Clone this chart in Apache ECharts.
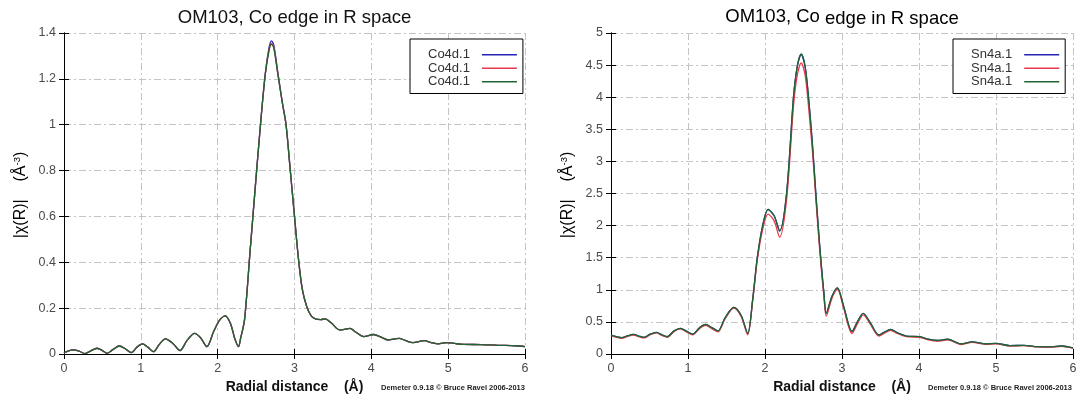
<!DOCTYPE html>
<html><head><meta charset="utf-8">
<script src="https://cdn.jsdelivr.net/npm/echarts@6/dist/echarts.min.js"></script>
<style>html,body{margin:0;padding:0;background:#fff}#c{width:1082px;height:401px}</style>
</head><body><div id="c"></div>
<script>
// ---------- data ----------
const coTitle = 'OM103, Co edge in R space';
const snTitleA = 'OM103, Co ';
const snTitleB = 'edge in R space';
const xAxisName = 'Radial distance    (Å)';
const credit = 'Demeter 0.9.18 \u00a9 Bruce Ravel 2006-2013';
const coNames = ['Co4d.1#1', 'Co4d.1#2', 'Co4d.1#3'];
const snNames = ['Sn4a.1#1', 'Sn4a.1#2', 'Sn4a.1#3'];

const coR = [0, 0.06, 0.12, 0.2, 0.27, 0.35, 0.43, 0.5, 0.56, 0.64, 0.72, 0.8, 0.875, 0.95, 1.02, 1.09, 1.165, 1.24, 1.32, 1.42, 1.51, 1.6, 1.7, 1.78, 1.86, 1.95, 2.03, 2.1, 2.17, 2.22, 2.27, 2.3, 2.35, 2.42, 2.49, 2.56, 2.62, 2.67, 2.7, 2.73, 2.78, 2.84, 2.89, 2.94, 3.0, 3.05, 3.1, 3.16, 3.22, 3.28, 3.34, 3.4, 3.48, 3.59, 3.66, 3.72, 3.8, 3.9, 4.03, 4.12, 4.22, 4.36, 4.45, 4.54, 4.69, 4.78, 4.87, 4.98, 5.1, 5.2, 5.43, 5.65, 5.88, 6.0];
const coBlue = [0.005, 0.014, 0.018, 0.012, 0.002, 0.014, 0.025, 0.015, 0.003, 0.02, 0.035, 0.022, 0.006, 0.03, 0.044, 0.03, 0.01, 0.042, 0.066, 0.045, 0.015, 0.058, 0.09, 0.07, 0.032, 0.1, 0.15, 0.166, 0.13, 0.07, 0.032, 0.07, 0.15, 0.44, 0.73, 1.012, 1.225, 1.338, 1.366, 1.348, 1.235, 1.1, 1.0, 0.82, 0.6, 0.42, 0.285, 0.206, 0.165, 0.152, 0.15, 0.153, 0.135, 0.105, 0.108, 0.112, 0.095, 0.076, 0.085, 0.075, 0.061, 0.068, 0.058, 0.05, 0.058, 0.05, 0.044, 0.05, 0.045, 0.042, 0.041, 0.038, 0.036, 0.032];
const coRed = [0.005, 0.014, 0.018, 0.012, 0.002, 0.014, 0.025, 0.015, 0.003, 0.02, 0.035, 0.022, 0.006, 0.03, 0.044, 0.03, 0.01, 0.042, 0.066, 0.045, 0.015, 0.058, 0.09, 0.07, 0.032, 0.1, 0.15, 0.166, 0.13, 0.07, 0.032, 0.07, 0.15, 0.44, 0.73, 1.01, 1.22, 1.33, 1.355, 1.34, 1.23, 1.1, 1.0, 0.82, 0.6, 0.42, 0.285, 0.206, 0.165, 0.152, 0.15, 0.153, 0.135, 0.105, 0.108, 0.112, 0.095, 0.076, 0.085, 0.075, 0.061, 0.068, 0.058, 0.05, 0.058, 0.05, 0.044, 0.05, 0.045, 0.042, 0.041, 0.038, 0.036, 0.032];
const coGreen = [0.005, 0.014, 0.018, 0.012, 0.002, 0.014, 0.025, 0.015, 0.003, 0.02, 0.035, 0.022, 0.006, 0.03, 0.044, 0.03, 0.01, 0.042, 0.066, 0.045, 0.015, 0.058, 0.09, 0.07, 0.032, 0.1, 0.15, 0.166, 0.13, 0.07, 0.032, 0.07, 0.15, 0.44, 0.73, 1.01, 1.22, 1.325, 1.35, 1.335, 1.228, 1.1, 1.0, 0.82, 0.6, 0.42, 0.285, 0.206, 0.165, 0.152, 0.15, 0.153, 0.135, 0.105, 0.108, 0.112, 0.095, 0.076, 0.085, 0.075, 0.061, 0.068, 0.058, 0.05, 0.058, 0.05, 0.044, 0.05, 0.045, 0.042, 0.041, 0.038, 0.036, 0.032];

const snR = [0, 0.07, 0.14, 0.22, 0.29, 0.36, 0.43, 0.51, 0.59, 0.66, 0.73, 0.82, 0.9, 0.98, 1.06, 1.15, 1.23, 1.31, 1.39, 1.48, 1.595, 1.69, 1.775, 1.84, 1.9, 1.97, 2.04, 2.12, 2.19, 2.28, 2.37, 2.42, 2.47, 2.52, 2.565, 2.62, 2.66, 2.7, 2.73, 2.765, 2.795, 2.87, 2.94, 3.02, 3.13, 3.2, 3.275, 3.37, 3.48, 3.55, 3.63, 3.72, 3.835, 4.01, 4.12, 4.24, 4.37, 4.55, 4.69, 4.87, 5.0, 5.18, 5.36, 5.54, 5.72, 5.85, 6.0];
const snBlue = [0.295, 0.27, 0.255, 0.285, 0.306, 0.28, 0.26, 0.31, 0.338, 0.3, 0.27, 0.36, 0.4, 0.355, 0.31, 0.41, 0.46, 0.41, 0.36, 0.56, 0.727, 0.6, 0.32, 0.85, 1.5, 2.0, 2.25, 2.15, 1.915, 2.5, 4.0, 4.48, 4.665, 4.48, 4.0, 3.2, 2.5, 1.85, 1.4, 0.95, 0.634, 0.9, 1.03, 0.75, 0.35, 0.5, 0.634, 0.48, 0.296, 0.34, 0.384, 0.33, 0.28, 0.27, 0.23, 0.21, 0.23, 0.156, 0.19, 0.156, 0.166, 0.13, 0.135, 0.114, 0.11, 0.125, 0.094];
const snRed = [0.285, 0.26, 0.245, 0.275, 0.296, 0.27, 0.25, 0.3, 0.328, 0.29, 0.26, 0.35, 0.39, 0.345, 0.3, 0.395, 0.445, 0.395, 0.345, 0.545, 0.715, 0.585, 0.3, 0.83, 1.46, 1.94, 2.18, 2.07, 1.82, 2.4, 3.86, 4.35, 4.534, 4.35, 3.86, 3.1, 2.42, 1.78, 1.34, 0.9, 0.59, 0.87, 1.01, 0.72, 0.32, 0.47, 0.61, 0.46, 0.28, 0.325, 0.37, 0.32, 0.27, 0.26, 0.22, 0.2, 0.22, 0.148, 0.182, 0.15, 0.16, 0.125, 0.13, 0.11, 0.106, 0.12, 0.09];
const snGreen = [0.295, 0.27, 0.255, 0.285, 0.306, 0.28, 0.26, 0.31, 0.338, 0.3, 0.27, 0.36, 0.4, 0.355, 0.31, 0.41, 0.46, 0.41, 0.36, 0.56, 0.727, 0.6, 0.32, 0.85, 1.5, 2.0, 2.255, 2.15, 1.92, 2.5, 4.0, 4.49, 4.674, 4.49, 4.0, 3.2, 2.5, 1.85, 1.4, 0.95, 0.634, 0.9, 1.03, 0.75, 0.35, 0.5, 0.634, 0.48, 0.296, 0.34, 0.384, 0.33, 0.28, 0.27, 0.23, 0.21, 0.23, 0.156, 0.19, 0.156, 0.166, 0.13, 0.135, 0.114, 0.11, 0.125, 0.094];

const coYMax = 1.4, coYStep = 0.2;
const snYMax = 5, snYStep = 0.5;
const xMax = 6, xStep = 1;

// ---------- styling ----------
const FONT = 'Liberation Sans, Arial, sans-serif';
const colors = ['#2323b8', '#ea3a4c', '#1f6432'];
const grids = [
  {left: 64, top: 33, width: 461, height: 321},
  {left: 611, top: 33, width: 462, height: 321}
];
const gridLine = {show: true, lineStyle: {color: '#c4c4c4', width: 1, type: [7, 3, 2, 3]}};
const lineAx = {show: true, lineStyle: {color: '#000', width: 1}};
const tick = {show: true, inside: true, length: 5, lineStyle: {color: '#000'}};
const lbl = {fontFamily: FONT, fontSize: 12.5, color: '#4a4a4a'};

const xAxes = [], yAxes = [];
[[coYMax, coYStep], [snYMax, snYStep]].forEach(([ym, ys], g) => {
  xAxes.push({type: 'value', gridIndex: g, min: 0, max: xMax, interval: xStep, position: 'bottom',
    axisLine: lineAx, axisTick: tick, splitLine: gridLine, axisLabel: Object.assign({margin: 8}, lbl)});
  xAxes.push({type: 'value', gridIndex: g, min: 0, max: xMax, interval: xStep, position: 'top',
    axisLine: lineAx, axisTick: tick, splitLine: {show: false}, axisLabel: {show: false}});
  yAxes.push({type: 'value', gridIndex: g, min: 0, max: ym, interval: ys, position: 'left',
    axisLine: lineAx, axisTick: tick, splitLine: gridLine, axisLabel: Object.assign({margin: 8}, lbl)});
  yAxes.push({type: 'value', gridIndex: g, min: 0, max: ym, interval: ys, position: 'right',
    axisLine: lineAx, axisTick: tick, splitLine: {show: false}, axisLabel: {show: false}});
});

function mk(name, xs, ys, g, ci) {
  return {type: 'line', name: name, xAxisIndex: g * 2, yAxisIndex: g * 2,
    data: xs.map((x, i) => [x, ys[i]]), showSymbol: false, smooth: 0.3,
    lineStyle: {color: colors[ci], width: 1.3}, itemStyle: {color: colors[ci]}, z: 2 + ci};
}
const series = [
  mk(coNames[0], coR, coBlue, 0, 0), mk(coNames[1], coR, coRed, 0, 1), mk(coNames[2], coR, coGreen, 0, 2),
  mk(snNames[0], snR, snBlue, 1, 0), mk(snNames[1], snR, snRed, 1, 1), mk(snNames[2], snR, snGreen, 1, 2)
];

function legend(left, names) {
  return {left: left, top: 39, orient: 'vertical', align: 'right', icon: 'rect',
    itemWidth: 35, itemHeight: 1.5, itemGap: 0, padding: [9, 6, 5, 18],
    borderColor: '#000', borderWidth: 1, backgroundColor: '#fff', selectedMode: false,
    textStyle: {fontFamily: FONT, fontSize: 13, color: '#333', lineHeight: 13.5, padding: [0, 7, 0, 0]},
    data: names, formatter: n => n.split('#')[0]};
}

function yName(x) {
  return {type: 'text', x: x, y: 195, rotation: Math.PI / 2,
    style: {text: '{a|\u007cχ(R)\u007c    (Å}{s|-3}{a|)}', align: 'center', verticalAlign: 'middle',
      rich: {a: {fontFamily: FONT, fontSize: 16, color: '#111'},
             s: {fontFamily: FONT, fontSize: 9.5, color: '#111', padding: [0, 0, 8, 0]}}}};
}
function xName(x) {
  return {type: 'text', x: x, y: 387, style: {text: xAxisName, align: 'center', verticalAlign: 'middle',
    fontFamily: FONT, fontSize: 14, fontWeight: 'bold', fill: '#111'}};
}
function cred(x) {
  return {type: 'text', x: x, y: 388, style: {text: credit, align: 'left', verticalAlign: 'middle',
    fontFamily: FONT, fontSize: 7.5, fontWeight: 'bold', fill: '#222'}};
}

const chart = echarts.init(document.getElementById('c'), null, {renderer: 'canvas'});
chart.setOption({
  animation: false,
  backgroundColor: '#fff',
  grid: grids,
  xAxis: xAxes,
  yAxis: yAxes,
  legend: [legend(410, coNames), legend(953, snNames)],
  series: series,
  graphic: [
    {type: 'text', x: 294.5, y: 17.5, style: {text: coTitle, align: 'center', verticalAlign: 'middle',
      fontFamily: FONT, fontSize: 18.5, fill: '#111'}},
    {type: 'text', x: 842, y: 17.5, style: {text: '{a|' + snTitleA + '}{b|' + snTitleB + '}', align: 'center', verticalAlign: 'middle',
      rich: {a: {fontFamily: FONT, fontSize: 18.5, color: '#111', verticalAlign: 'bottom', padding: [0, 0, 2, 0]},
             b: {fontFamily: FONT, fontSize: 18.5, color: '#111', verticalAlign: 'bottom'}}}},
    yName(21), yName(568),
    xName(294.5), xName(842),
    cred(381), cred(928)
  ]
});
</script></body></html>
